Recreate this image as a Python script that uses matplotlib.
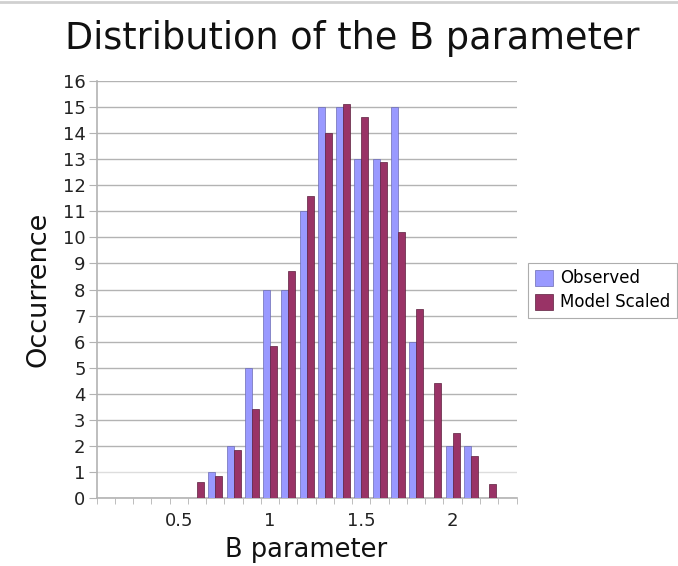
import numpy as np
import matplotlib
matplotlib.use("Agg")
import matplotlib.pyplot as plt
from matplotlib.lines import Line2D

# ── Data ──────────────────────────────────────────────────────────────────────
b_values = [0.1, 0.2, 0.3, 0.4, 0.5, 0.6, 0.7, 0.8, 0.9, 1.0, 1.1, 1.2,
            1.3, 1.4, 1.5, 1.6, 1.7, 1.8, 1.9, 2.0, 2.1, 2.2, 2.3]
observed = [0, 0, 0, 0, 0, 0, 1, 2, 5, 8, 8, 11,
            15, 15, 13, 13, 15, 6, 0, 2, 2, 0, 0]
model_scaled = [0, 0, 0, 0, 0, 0.6, 0.85, 1.85, 3.4, 5.85, 8.7, 11.6,
                14.0, 15.1, 14.6, 12.9, 10.2, 7.25, 4.4, 2.5, 1.6, 0.55, 0]
shown_labels = {0.5: "0.5", 1.0: "1", 1.5: "1.5", 2.0: "2"}

OBS_COLOR = "#9999ff"
MOD_COLOR = "#993366"
GRID_COLOR = "#b3b3b3"

fig = plt.figure(figsize=(6.78, 5.66), dpi=100)
ax = fig.add_axes([0.1426, 0.120, 0.6192, 0.737])

x = np.arange(len(b_values))
w = 0.38
ax.bar(x - w / 2, observed, width=w, color=OBS_COLOR,
       edgecolor="#6b6bb3", linewidth=0.5, label="Observed", zorder=3)
ax.bar(x + w / 2, model_scaled, width=w, color=MOD_COLOR,
       edgecolor="#5c1f3d", linewidth=0.5, label="Model Scaled", zorder=3)

ax.set_xlim(-0.5, len(b_values) - 0.5)
ax.set_ylim(0, 16)

# category labels only every 0.5, boundary ticks between categories
idx = [i for i, b in enumerate(b_values) if round(b, 1) in shown_labels]
ax.set_xticks(idx)
ax.set_xticklabels([shown_labels[round(b_values[i], 1)] for i in idx])
ax.set_xticks(np.arange(len(b_values) + 1) - 0.5, minor=True)
ax.tick_params(axis="x", which="major", length=0, labelsize=13, pad=10,
               labelcolor="#222222")
ax.tick_params(axis="x", which="minor", length=4, color=GRID_COLOR,
               direction="out")

ax.set_yticks(range(0, 17))
ax.tick_params(axis="y", length=6, color=GRID_COLOR, labelsize=13,
               labelcolor="#222222", pad=2)
ax.yaxis.grid(True, color=GRID_COLOR, linewidth=1.0, zorder=0)
ax.set_axisbelow(True)
ax.get_ygridlines()[1].set_color("#dddddd")

for s in ("top", "right"):
    ax.spines[s].set_visible(False)
for s in ("left", "bottom"):
    ax.spines[s].set_color(GRID_COLOR)
    ax.spines[s].set_linewidth(1.2)

fig.text(0.519, 0.932, "Distribution of the B parameter", ha="center",
         va="center", fontsize=26.4, color="#111111")
ax.set_xlabel("B parameter", fontsize=18.5, color="#111111", labelpad=5)
ax.set_ylabel("Occurrence", fontsize=19.5, color="#111111", labelpad=8)

leg = fig.legend(loc="center left", bbox_to_anchor=(0.779, 0.487),
                 fontsize=12, frameon=True, fancybox=False,
                 handlelength=1.1, handleheight=1.1, handletextpad=0.4,
                 borderpad=0.4, labelspacing=0.35, borderaxespad=0)
leg.get_frame().set_edgecolor("#999999")
leg.get_frame().set_linewidth(0.8)

# faint frame line along the top of the image
fig.add_artist(Line2D([0, 1], [0.996, 0.996], transform=fig.transFigure,
                      color="#d0d0d0", linewidth=2))

fig.savefig("out.png", dpi=100)
